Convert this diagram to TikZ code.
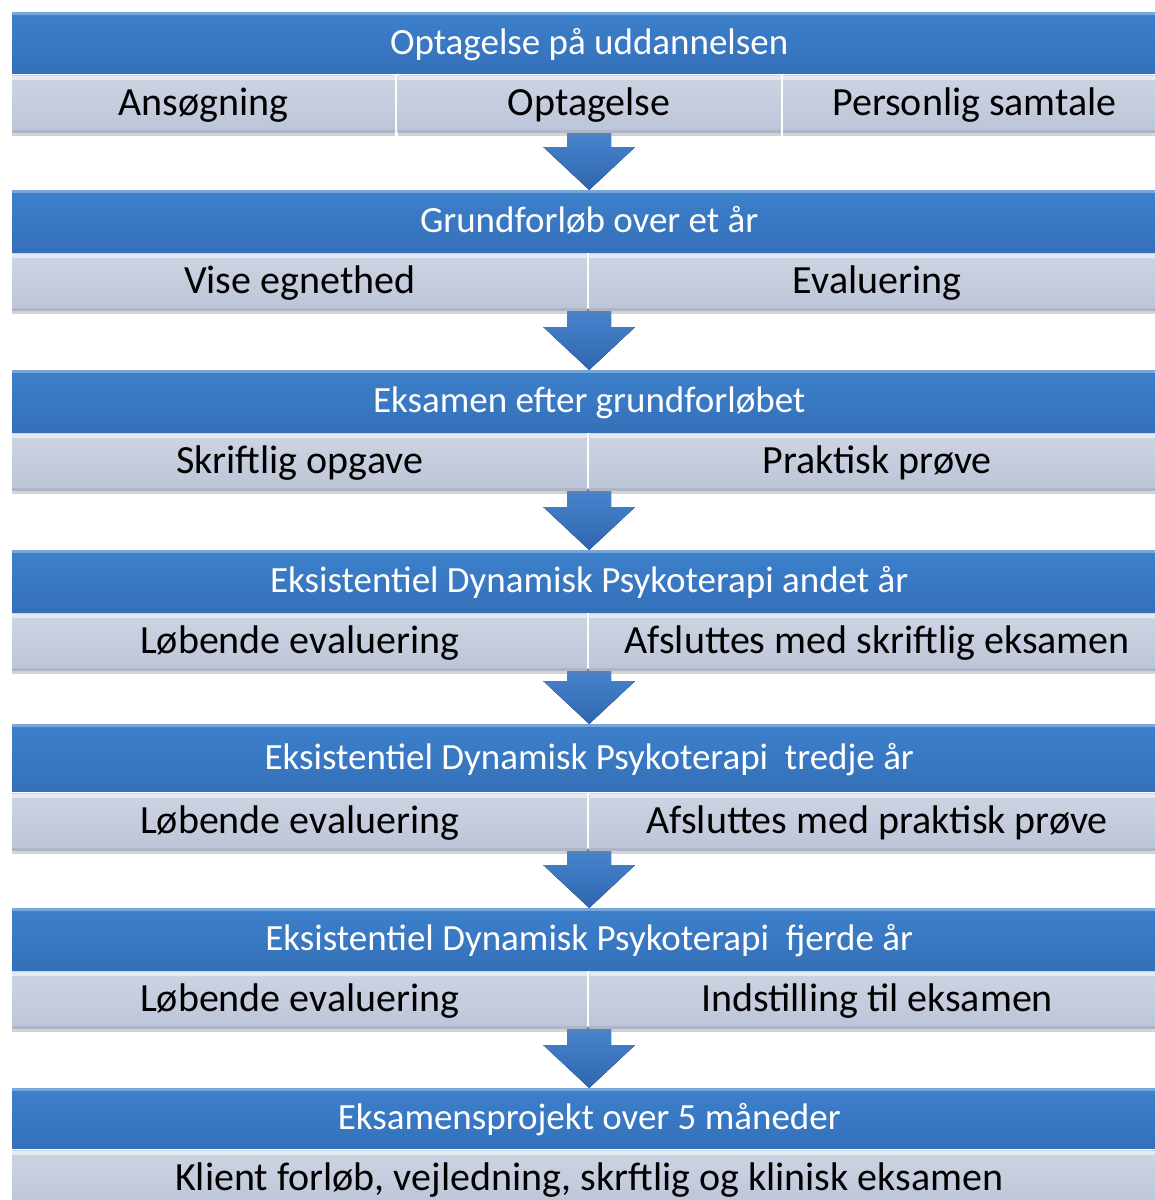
\documentclass[tikz,border=0pt]{standalone}
\usepackage{fontspec}
\setmainfont{Carlito}
\usetikzlibrary{calc, positioning, shadows, backgrounds}

\definecolor{headtop}{HTML}{3D80CB}
\definecolor{headbot}{HTML}{3570BA}
\definecolor{celltop}{HTML}{CDD4E3}
\definecolor{cellbot}{HTML}{BCC5D8}
\definecolor{arrowtop}{HTML}{4885CE}
\definecolor{arrowbot}{HTML}{2E66AE}

\tikzset{
  head/.style={anchor=north west, inner sep=0pt, minimum width=1154pt,
    top color=headtop, bottom color=headbot, text=white,
    text height=28pt, text depth=5pt, font=\fontsize{37}{37}\selectfont,
    path picture={\fill[white, opacity=.3] (path picture bounding box.north west)
      rectangle ([yshift=-3pt]path picture bounding box.north east);}},
  cell/.style={inner sep=0pt, minimum height=57pt,
    top color=celltop, bottom color=cellbot, text=black,
    text height=30pt, text depth=7pt, font=\fontsize{40}{40}\selectfont,
    drop shadow={shadow xshift=0pt, shadow yshift=-3pt, opacity=.35},
    path picture={\fill[white, opacity=.5] (path picture bounding box.north west)
      rectangle ([yshift=-4pt]path picture bounding box.north east);
      \fill[black, opacity=.08] (path picture bounding box.south west)
      rectangle ([yshift=3pt]path picture bounding box.south east);}},
  flowarrow/.style={top color=arrowtop, bottom color=arrowbot},
}

\begin{document}
\begin{tikzpicture}[x=1pt, y=1pt]
  \clip (0,0) rectangle (1155,-1200);

  % Headers
  \foreach \n/\top/\hgt/\title in {
      1/12/61/{Optagelse på uddannelsen},
      2/190/62/{Grundforløb over et år},
      3/370/62/{Eksamen efter grundforløbet},
      4/550/62/{Eksistentiel Dynamisk Psykoterapi andet år},
      5/724/67/{Eksistentiel Dynamisk Psykoterapi~ tredje år},
      6/908/62/{Eksistentiel Dynamisk Psykoterapi~ fjerde år},
      7/1088/60/{Eksamensprojekt over 5 måneder}}{
    \node[head, minimum height=\hgt pt] (h\n) at (12,-\top) {\title};
  }

  % Rows below the headers
  \node[cell, minimum width=383pt, below right=2pt and 0pt of h1.south west] (s1a) {Ansøgning};
  \node[cell, minimum width=383pt, right=2pt of s1a] (s1b) {Optagelse};
  \node[cell, minimum width=383pt, right=2pt of s1b] (s1c) {Personlig samtale};

  \node[cell, minimum width=575pt, below right=1pt and 0pt of h2.south west] (s2a) {Vise egnethed};
  \node[cell, minimum width=575pt, right=2pt of s2a] (s2b) {Evaluering};

  \node[cell, minimum width=575pt, below right=1pt and 0pt of h3.south west] (s3a) {Skriftlig opgave};
  \node[cell, minimum width=575pt, right=2pt of s3a] (s3b) {Praktisk prøve};

  \node[cell, minimum width=575pt, below right=1pt and 0pt of h4.south west] (s4a) {Løbende evaluering};
  \node[cell, minimum width=575pt, right=2pt of s4a] (s4b) {Afsluttes med skriftlig eksamen};

  \node[cell, minimum width=575pt, below right=2pt and 0pt of h5.south west] (s5a) {Løbende evaluering};
  \node[cell, minimum width=575pt, right=2pt of s5a] (s5b) {Afsluttes med praktisk prøve};

  \node[cell, minimum width=575pt, below right=1pt and 0pt of h6.south west] (s6a) {Løbende evaluering};
  \node[cell, minimum width=575pt, right=2pt of s6a] (s6b) {Indstilling til eksamen};

  \node[cell, minimum width=1154pt, below right=2pt and 0pt of h7.south west] (s7a) {Klient forløb, vejledning, skrftlig og klinisk eksamen};

  % Arrows
  \begin{scope}[on background layer]
    \foreach \i/\j in {1/2, 2/3, 3/4, 4/5, 5/6, 6/7}{
      \fill[flowarrow] ($(h\i.center |- s\i a.south)+(-22,2)$) -- ($(h\j.north)+(-22,43)$)
        -- ($(h\j.north)+(-46,43)$) -- (h\j.north) -- ($(h\j.north)+(46,43)$)
        -- ($(h\j.north)+(22,43)$) -- ($(h\i.center |- s\i a.south)+(22,2)$) -- cycle;
    }
  \end{scope}

\end{tikzpicture}
\end{document}
